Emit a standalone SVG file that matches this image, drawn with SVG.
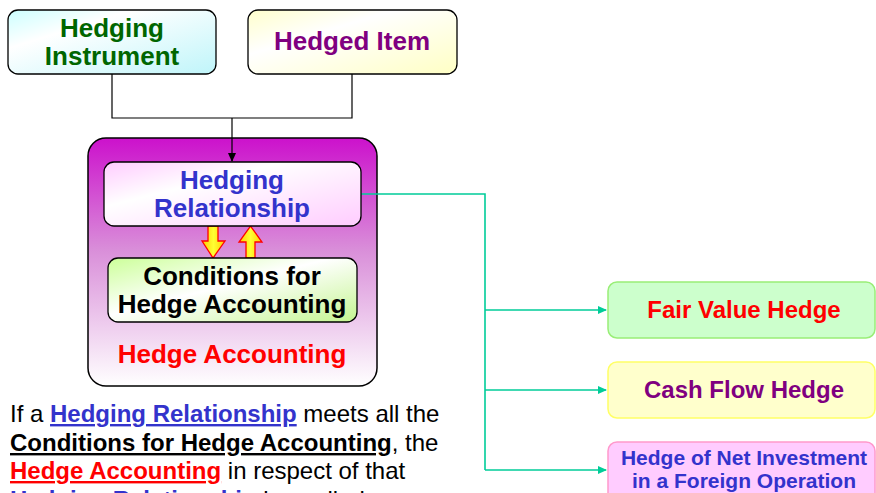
<svg xmlns="http://www.w3.org/2000/svg" width="876" height="493" viewBox="0 0 876 493">
<defs>
<linearGradient id="gCyan" x1="0" y1="0" x2="1" y2="1"><stop offset="0" stop-color="#ccffff"/><stop offset="0.3" stop-color="#ffffff"/><stop offset="1" stop-color="#bff5fa"/></linearGradient>
<linearGradient id="gYel" x1="0" y1="0" x2="1" y2="1"><stop offset="0" stop-color="#ffffcc"/><stop offset="0.35" stop-color="#ffffff"/><stop offset="1" stop-color="#ffffc4"/></linearGradient>
<linearGradient id="gPur" x1="0" y1="0" x2="0" y2="1"><stop offset="0" stop-color="#cc11cc"/><stop offset="0.45" stop-color="#d98ed9"/><stop offset="1" stop-color="#ffffff"/></linearGradient>
<linearGradient id="gPink" x1="0" y1="0" x2="1" y2="1"><stop offset="0" stop-color="#ffccff"/><stop offset="0.35" stop-color="#ffffff"/><stop offset="1" stop-color="#ffccff"/></linearGradient>
<linearGradient id="gGreen" x1="0" y1="0" x2="1" y2="1"><stop offset="0" stop-color="#ccff99"/><stop offset="0.45" stop-color="#ffffff"/><stop offset="1" stop-color="#c4f590"/></linearGradient>
<linearGradient id="gArrow" x1="0" y1="0" x2="1" y2="0"><stop offset="0" stop-color="#ffcc00"/><stop offset="0.5" stop-color="#ffff33"/><stop offset="1" stop-color="#ffcc00"/></linearGradient>
<marker id="tealHead" markerWidth="10" markerHeight="10" refX="8" refY="4" orient="auto" markerUnits="userSpaceOnUse"><path d="M0,0 L9,4 L0,8 z" fill="#00cc99"/></marker>
<marker id="blackHead" markerWidth="10" markerHeight="10" refX="8" refY="4" orient="auto" markerUnits="userSpaceOnUse"><path d="M0,0 L9,4 L0,8 z" fill="#000"/></marker>
</defs>
<style>
text{font-family:"Liberation Sans",Arial,sans-serif;}
.b{font-weight:bold;font-size:26px;text-anchor:middle;}
.box{stroke:#000;stroke-width:1.3;}
.r{font-weight:bold;font-size:24px;text-anchor:middle;}
.p{font-size:24px;}
.t{stroke:#00cc99;stroke-width:1.6;fill:none;}
</style>
<rect width="876" height="493" fill="#fff"/>

<g id="hedge-accounting">
<rect x="88" y="138" width="289" height="248" rx="18" fill="url(#gPur)" stroke="#000" stroke-width="1.5"/>
<text class="b" x="232" y="363" fill="#ff0000">Hedge Accounting</text>
</g>

<g id="connectors">
<polyline points="112,74 112,118 352,118 352,74" fill="none" stroke="#000" stroke-width="1.2"/>
<line x1="232" y1="118" x2="232" y2="161" stroke="#000" stroke-width="1.2" marker-end="url(#blackHead)"/>
<polyline class="t" points="361,194 485,194 485,470"/>
<line class="t" x1="485" y1="310" x2="606" y2="310" marker-end="url(#tealHead)"/>
<line class="t" x1="485" y1="390" x2="606" y2="390" marker-end="url(#tealHead)"/>
<line class="t" x1="485" y1="470" x2="606" y2="470" marker-end="url(#tealHead)"/>
<path d="M208,226 L218,226 L218,241 L225,241 L213,258 L202,241 L208,241 Z" fill="url(#gArrow)" stroke="#ff0000" stroke-width="1.3"/>
<path d="M246,258 L255,258 L255,242 L262,242 L250.5,226 L239,242 L246,242 Z" fill="url(#gArrow)" stroke="#ff0000" stroke-width="1.3"/>
</g>

<g id="hedging-instrument">
<rect class="box" x="8" y="10" width="208" height="64" rx="10" fill="url(#gCyan)"/>
<text class="b" x="112" y="37" fill="#006600">Hedging</text>
<text class="b" x="112" y="65" fill="#006600">Instrument</text>
</g>

<g id="hedged-item">
<rect class="box" x="248" y="10" width="209" height="64" rx="10" fill="url(#gYel)"/>
<text class="b" x="352" y="50" fill="#800080">Hedged Item</text>
</g>

<g id="hedging-relationship">
<rect class="box" x="104" y="162" width="257" height="64" rx="10" fill="url(#gPink)"/>
<text class="b" x="232" y="189" fill="#3333cc">Hedging</text>
<text class="b" x="232" y="217" fill="#3333cc">Relationship</text>
</g>

<g id="conditions">
<rect class="box" x="108" y="258" width="249" height="64" rx="10" fill="url(#gGreen)"/>
<text class="b" x="232" y="285" fill="#000">Conditions for</text>
<text class="b" x="232" y="313" fill="#000">Hedge Accounting</text>
</g>

<g id="fair-value-hedge">
<rect x="608" y="282" width="267" height="56" rx="9" fill="#ccffcc" stroke="#99ee77" stroke-width="1.5"/>
<text class="r" x="744" y="318" fill="#ff0000">Fair Value Hedge</text>
</g>

<g id="cash-flow-hedge">
<rect x="608" y="362" width="267" height="56" rx="9" fill="#ffffcc" stroke="#ffff66" stroke-width="1.5"/>
<text class="r" x="744" y="398" fill="#800080">Cash Flow Hedge</text>
</g>

<g id="net-investment-hedge">
<rect x="608" y="442" width="267" height="62" rx="9" fill="#ffccff" stroke="#ff99cc" stroke-width="1.5"/>
<text x="744" y="465" font-size="21" font-weight="bold" text-anchor="middle" fill="#3333cc">Hedge of Net Investment</text>
<text x="744" y="488" font-size="21" font-weight="bold" text-anchor="middle" fill="#3333cc">in a Foreign Operation</text>
</g>

<g id="paragraph">
<text class="p" x="10" y="422" fill="#000">If a <tspan font-weight="bold" fill="#3333cc" text-decoration="underline">Hedging Relationship</tspan> meets all the</text>
<text class="p" x="10" y="451" fill="#000"><tspan font-weight="bold" text-decoration="underline">Conditions for Hedge Accounting</tspan>, the</text>
<text class="p" x="10" y="479" fill="#000"><tspan font-weight="bold" fill="#ff0000" text-decoration="underline">Hedge Accounting</tspan> in respect of that</text>
<text class="p" x="10" y="508" fill="#000"><tspan font-weight="bold" fill="#3333cc" text-decoration="underline">Hedging Relationship</tspan> is applied.</text>
</g>
</svg>
